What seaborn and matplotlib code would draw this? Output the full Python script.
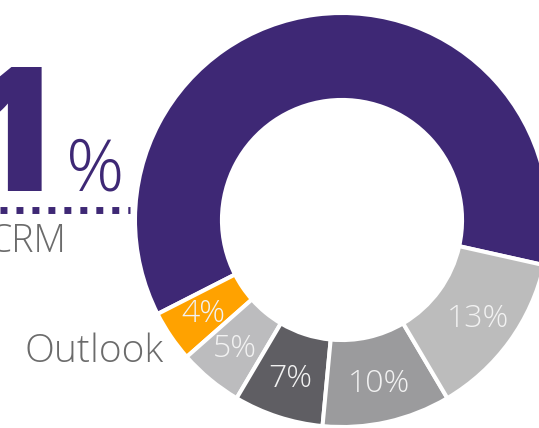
import matplotlib
matplotlib.use('Agg')
import matplotlib.pyplot as plt
import seaborn as sns
import numpy as np

# data
labels = ['CRM', 'Outlook', 'Other A', 'Other B', 'Other C', 'Other D']
shares = [61, 4, 5, 7, 10, 13]
colors = ['#3e2875', '#ffa200', '#bcbcbe', '#5f5e63', '#9b9b9d', '#bcbcbc']
pct_labels = ['', '4%', '5%', '7%', '10%', '13%']
headline = '61'

sns.set_theme(style='white')
plt.rcParams['font.family'] = ['Open Sans', 'DejaVu Sans']

W, H = 539, 428
CX, CY, R = 342, 220, 207  # donut centre / radius in pixels


def px(x, y):
    # pixel (from top-left) -> data coords of the unit donut
    return (x - CX) / R, (CY - y) / R


fig = plt.figure(figsize=(W / 100, H / 100), dpi=100)
ax = fig.add_axes([0, 0, 1, 1])

wedges, _ = ax.pie(shares, colors=colors, startangle=-12.6, counterclock=True,
                   radius=1.0, wedgeprops=dict(width=0.42, edgecolor='white', linewidth=2.9))

# percent labels inside the ring
for w, lab in zip(wedges, pct_labels):
    if not lab:
        continue
    ang = np.deg2rad((w.theta1 + w.theta2) / 2)
    r = 0.81
    ax.text(r * np.cos(ang), r * np.sin(ang), lab, ha='center', va='center',
            color='#f2f2f2', fontsize=23, fontweight='light')

ax.set_xlim(-CX / R, (W - CX) / R)
ax.set_ylim((CY - H) / R, CY / R)
ax.set_aspect('equal')
ax.axis('off')

purple = colors[0]
gray = '#6b6b6b'

# big headline number, cut at the left edge
x, y = px(64, 191)
ax.text(x, y, headline, ha='right', va='baseline', color=purple,
        fontsize=125, fontweight='black')
x, y = px(66, 190)
ax.text(x, y, '%', ha='left', va='baseline', color=purple,
        fontsize=52, fontweight='light')

# dotted leader line
x0, y0 = px(0, 210)
x1, _ = px(130, 210)
ax.plot([x0, x1], [y0, y0], color=purple, linewidth=5,
        linestyle=(0, (1, 1.3)), dash_capstyle='butt', solid_capstyle='butt')

x, y = px(66, 252)
ax.text(x, y, labels[0], ha='right', va='baseline', color=gray,
        fontsize=27, fontweight='light')
x, y = px(164, 362)
ax.text(x, y, labels[1], ha='right', va='baseline', color=gray,
        fontsize=28, fontweight='light')

fig.savefig('out.png', dpi=100)
